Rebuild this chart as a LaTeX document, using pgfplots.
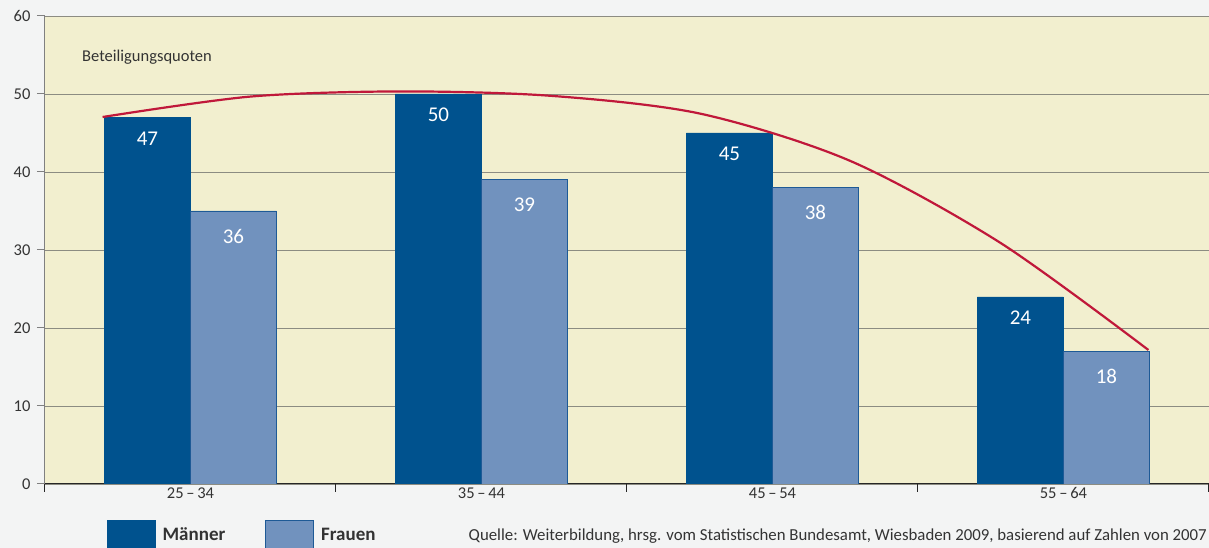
\documentclass[border=0pt]{standalone}
\usepackage{fontspec}
\setmainfont{Carlito}
\usepackage{pgfplots}
\pgfplotsset{compat=1.18}
\definecolor{pagebg}{RGB}{243,244,244}
\definecolor{plotbg}{RGB}{242,239,207}
\definecolor{gridc}{RGB}{140,140,130}
\definecolor{maenner}{RGB}{0,82,142}
\definecolor{frauen}{RGB}{113,146,190}
\definecolor{frauenrand}{RGB}{30,90,150}
\definecolor{kurve}{RGB}{192,24,58}
\definecolor{textc}{RGB}{51,51,51}
\pgfplotsset{boxlegend/.style={legend image code/.code={\filldraw[##1] (0pt,-15pt) rectangle (48pt,15pt);}}}

\begin{document}
\begin{tikzpicture}
\fill[pagebg] (-45pt,-64pt) rectangle (1164pt,484pt);
\begin{axis}[
    scale only axis,
    width=1164pt, height=468pt,
    xmin=-0.5, xmax=3.5,
    ymin=0, ymax=60,
    enlargelimits=false,
    axis lines*=left,
    x axis line style={-, color=black!85, line width=1pt},
    y axis line style={-, color=black!50, line width=1pt},
    axis background/.style={fill=plotbg},
    ytick={0,10,...,60},
    ymajorgrids,
    grid style={gridc, line width=0.9pt},
    xtick={-0.5,0.5,1.5,2.5,3.5},
    xticklabels={},
    extra x ticks={0,1,2,3},
    extra x tick labels={25\,–\,34,35\,–\,44,45\,–\,54,55\,–\,64},
    extra x tick style={major tick length=0pt, grid=none},
    tick align=outside,
    major tick length=8pt,
    xtick style={color=black!85, line width=1pt},
    ytick style={color=black!50, line width=1pt},
    /pgf/number format/assume math mode=true,
    tick label style={font=\fontsize{16.5}{19}\selectfont, text=textc},
    yticklabel style={xshift=-3pt},
    legend style={at={(0.0507,-0.109)}, anchor=west, draw=none, fill=none,
        legend columns=2, font=\fontsize{19}{22}\selectfont\bfseries, text=textc,
        /tikz/every odd column/.append style={column sep=5pt},
        /tikz/every even column/.append style={column sep=38pt}},
]
\addplot[ybar, bar width=0.2955, bar shift=-0.1478, fill=maenner, draw=maenner,
    point meta=explicit symbolic, nodes near coords,
    nodes near coords style={anchor=center, xshift=-43pt, yshift=-21pt, text=white, font=\fontsize{21}{24}\selectfont},
    boxlegend]
    coordinates {(0,47)[47] (1,50)[50] (2,45)[45] (3,24)[24]};
\addlegendentry{Männer}
\addplot[ybar, bar width=0.2955, bar shift=0.1478, fill=frauen, draw=frauenrand, line width=0.8pt,
    point meta=explicit symbolic, nodes near coords,
    nodes near coords style={anchor=center, xshift=43pt, yshift=-25pt, text=white, font=\fontsize{21}{24}\selectfont},
    boxlegend]
    coordinates {(0,35)[36] (1,39)[39] (2,38)[38] (3,17)[18]};
\addlegendentry{Frauen}
% Trendkurve
\addplot[smooth, kurve, line width=2.2pt] coordinates {
    (-0.302,47.05) (0.206,49.67) (0.722,50.33) (1.237,49.77)
    (1.753,47.47) (2.268,41.41) (2.784,30.90) (3.292,17.18)};
\node[anchor=west, inner sep=0pt, text=textc, font=\fontsize{16.5}{19}\selectfont]
    at (rel axis cs:0.0318,0.912) {Beteiligungsquoten};
\end{axis}
\node[anchor=base east, inner sep=0pt, text=textc, font=\fontsize{16.8}{19}\selectfont]
    at (1162pt,-57pt) {Quelle: Weiterbildung, hrsg. vom Statistischen Bundesamt, Wiesbaden 2009, basierend auf Zahlen von 2007};
\pgfresetboundingbox
\path (-45pt,-64pt) rectangle (1164pt,484pt);
\end{tikzpicture}
\end{document}
